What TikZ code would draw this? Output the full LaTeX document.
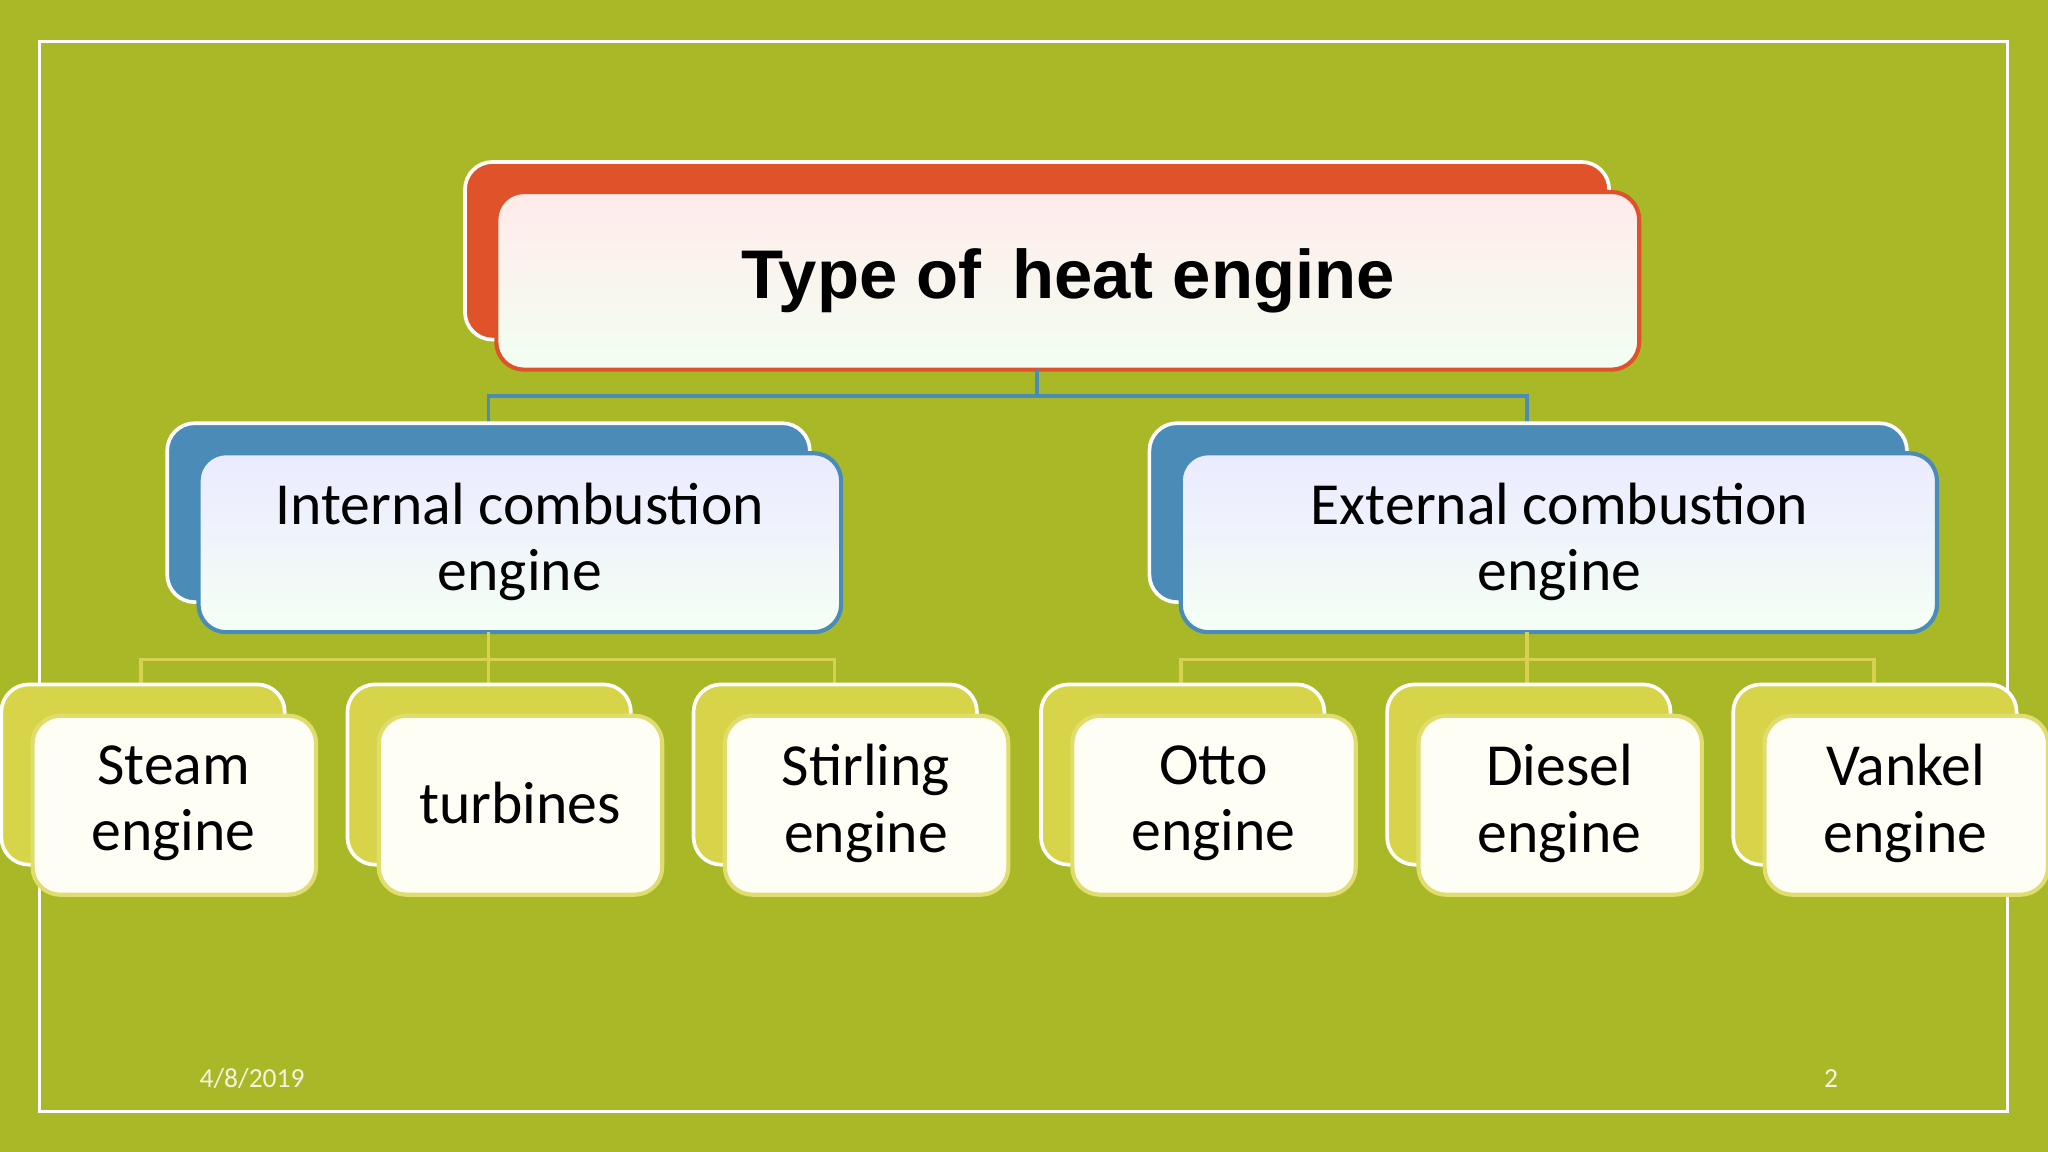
\documentclass[tikz,border=0pt]{standalone}
\usepackage{fontspec}
\setmainfont{Carlito}
\newfontfamily\titlefont{Liberation Sans}
\definecolor{bg}{HTML}{A8B826}
\definecolor{org}{HTML}{E0522A}
\definecolor{blu}{HTML}{4A8BB8}
\definecolor{yel}{HTML}{D8D44A}
\definecolor{yline}{HTML}{D8D050}
\tikzset{
 back/.style={rounded corners=6pt,draw=white,line width=0.8pt},
 front/.style={rounded corners=6pt,line width=0.9pt},
 lbl/.style={align=center,font=\fontsize{13}{14.5}\selectfont,text=black},
}
\begin{document}
\begin{tikzpicture}[x=0.1mm,y=-0.1mm]
\fill[bg] (0,0) rectangle (1568,882);
\useasboundingbox (0,0) rectangle (1568,882);
\draw[white,line width=0.6pt] (30,32) rectangle (1537,851);
% title
\draw[back,fill=org] (356,124) rectangle (1232,260);
\draw[front,draw=org,top color=red!8!white,bottom color=green!5!white] (380,147) rectangle (1255,283);
\node[font=\titlefont\bfseries\fontsize{15}{17}\selectfont] (t) at (818,215) {Type of\, heat engine};
\coordinate (tb) at (794,283);
\coordinate (l2a) at (374,324); \coordinate (l2b) at (1169,324);
\draw[blu,line width=0.8pt] (tb) -- (794,303) -| (l2a);
\draw[blu,line width=0.8pt] (794,303) -| (l2b);
% level 2
\draw[back,fill=blu] (128,324) rectangle (620,461);
\draw[front,draw=blu,fill=blue!8!white,top color=blue!8!white,bottom color=green!4!white] (152,347) rectangle (644,484);
\node[lbl] (i) at (398,415) {Internal combustion\\engine};
\draw[back,fill=blu] (880,324) rectangle (1460,461);
\draw[front,draw=blu,top color=blue!8!white,bottom color=green!4!white] (904,347) rectangle (1483,484);
\node[lbl] (e) at (1194,415) {External combustion\\engine};
% connectors level 3
\draw[yline,line width=0.8pt] (374,484) -- (374,505);
\draw[yline,line width=0.8pt] (108,524) -- (108,505) -- (639,505) -- (639,524);
\draw[yline,line width=0.8pt] (374,505) -- (374,524);
\draw[yline,line width=0.8pt] (1169,484) -- (1169,505);
\draw[yline,line width=0.8pt] (904,524) -- (904,505) -- (1435,505) -- (1435,524);
\draw[yline,line width=0.8pt] (1169,505) -- (1169,524);
% leaves
\foreach \x/\t [count=\i] in {1/{Steam\\engine},266/{turbines},531/{Stirling\\engine},797/{Otto\\engine},1062/{Diesel\\engine},1327/{Vankel\\engine}}{
 \draw[back,fill=yel] (\x,524) rectangle ({\x+217},662);
 \draw[front,draw=yel!80!white,fill=yellow!4!white] ({\x+24},548) rectangle ({\x+241},685);
 \node[lbl] (leaf\i) at ({\x+132},615) {\t};
}
\node[text=white!85!bg,font=\fontsize{6}{7}\selectfont] (d) at (193,826) {4/8/2019};
\node[text=white!85!bg,font=\fontsize{6}{7}\selectfont] (p) at (1402,826) {2};
\end{tikzpicture}
\end{document}
